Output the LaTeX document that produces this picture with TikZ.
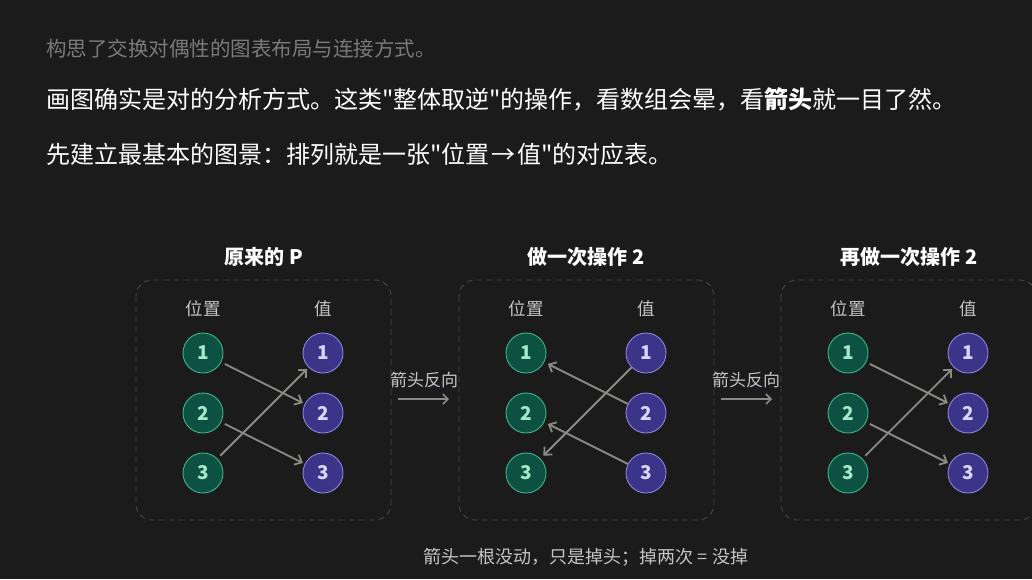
\documentclass[tikz,border=0pt]{standalone}
\usepackage{fontspec}
\setmainfont{Noto Sans CJK SC}[Ligatures=TeXOff]
\usetikzlibrary{arrows.meta}
\definecolor{bg}{HTML}{1B1B1B}
\definecolor{gfill}{HTML}{0C5141}
\definecolor{gline}{HTML}{3FB58C}
\definecolor{gtext}{HTML}{A6E8CC}
\definecolor{pfill}{HTML}{3C3489}
\definecolor{pline}{HTML}{8E86DC}
\definecolor{ptext}{HTML}{DAD6FF}
\definecolor{arr}{HTML}{8C8A85}
\definecolor{boxc}{HTML}{474747}
\definecolor{lbl}{HTML}{C4C4C4}
\definecolor{dim}{HTML}{7A7A7A}
\begin{document}
\begin{tikzpicture}[x=1pt,y=-1pt,
  txt/.style={inner sep=0pt, outer sep=0pt},
  posn/.style={circle, minimum size=40pt, inner sep=0pt, fill=gfill, draw=gline, line width=0.9pt, text=gtext, font=\fontsize{19}{19}\selectfont\bfseries},
  valn/.style={circle, minimum size=40pt, inner sep=0pt, fill=pfill, draw=pline, line width=0.9pt, text=ptext, font=\fontsize{19}{19}\selectfont\bfseries},
  panel/.style={draw=boxc, dashed, dash pattern=on 6pt off 4pt, rounded corners=16pt, line width=0.9pt},
  link/.style={draw=arr, line width=1.8pt, -{Straight Barb[length=6pt,width=11pt,line width=1.8pt]}},
  colh/.style={txt, text=lbl, font=\fontsize{17.5}{17.5}\selectfont},
  ttl/.style={txt, text=white, font=\fontsize{20}{20}\selectfont\bfseries},
  flip/.style={txt, text=lbl, font=\fontsize{17}{17}\selectfont},
]
\fill[bg] (0,0) rectangle (1032,579);
\useasboundingbox (0,0) rectangle (1032,579);

% header
\node[txt, anchor=west, text=dim, font=\fontsize{20.5}{20.5}\selectfont] (h1) at (46,49) {构思了交换对偶性的图表布局与连接方式。};
\node[txt, anchor=west, text=white, font=\fontsize{24}{24}\selectfont] (h2) at (46,99) {画图确实是对的分析方式。这类"整体取逆"的操作，看数组会晕，看{\bfseries 箭头}就一目了然。};
\node[txt, anchor=west, text=white, font=\fontsize{24}{24}\selectfont] (h3) at (46,154) {先建立最基本的图景：排列就是一张"位置\kern2pt→\kern2pt值"的对应表。};

% panels
\foreach \i/\x in {1/136,2/459,3/781}{
  \draw[panel] (\x,280) rectangle ++(255,240);
}
\node[ttl] (t1) at (264,257) {原来的 P};
\node[ttl] (t2) at (586,257) {做一次操作 2};
\node[ttl] (t3) at (909,257) {再做一次操作 2};

\foreach \k/\lx/\rx in {1/203/323, 2/526/646, 3/848/968}{
  \node[colh] (pl\k) at (\lx,309) {位置};
  \node[colh] (vl\k) at (\rx,309) {值};
  \node[posn] (p\k a) at (\lx,353) {1};
  \node[posn] (p\k b) at (\lx,413) {2};
  \node[posn] (p\k c) at (\lx,473) {3};
  \node[valn] (v\k a) at (\rx,353) {1};
  \node[valn] (v\k b) at (\rx,413) {2};
  \node[valn] (v\k c) at (\rx,473) {3};
}

% panel 1 and 3 arrows: position -> value
\foreach \k in {1,3}{
  \draw[link, shorten <=4pt, shorten >=2pt] (p\k a) -- (v\k b);
  \draw[link, shorten <=4pt, shorten >=2pt] (p\k b) -- (v\k c);
  \draw[link, shorten <=4pt, shorten >=2pt] (p\k c) -- (v\k a);
}
% panel 2 arrows: value -> position
\draw[link, shorten >=4pt] (v2b) -- (p2a);
\draw[link, shorten >=4pt] (v2c) -- (p2b);
\draw[link, shorten >=4pt] (v2a) -- (p2c);

% flip arrows between panels
\coordinate (f1s) at (398,399); \coordinate (f1e) at (449,399);
\coordinate (f2s) at (721,399); \coordinate (f2e) at (772,399);
\node[flip] (fl1) at (424,380) {箭头反向};
\node[flip] (fl2) at (746,380) {箭头反向};
\draw[draw=arr, line width=1.6pt, -{Straight Barb[length=5pt,width=10pt,line width=1.6pt]}] (f1s) -- (f1e);
\draw[draw=arr, line width=1.6pt, -{Straight Barb[length=5pt,width=10pt,line width=1.6pt]}] (f2s) -- (f2e);

\node[txt, text=lbl, font=\fontsize{18}{18}\selectfont] (foot) at (586,557) {箭头一根没动，只是掉头；掉两次 = 没掉};
\end{tikzpicture}
\end{document}
